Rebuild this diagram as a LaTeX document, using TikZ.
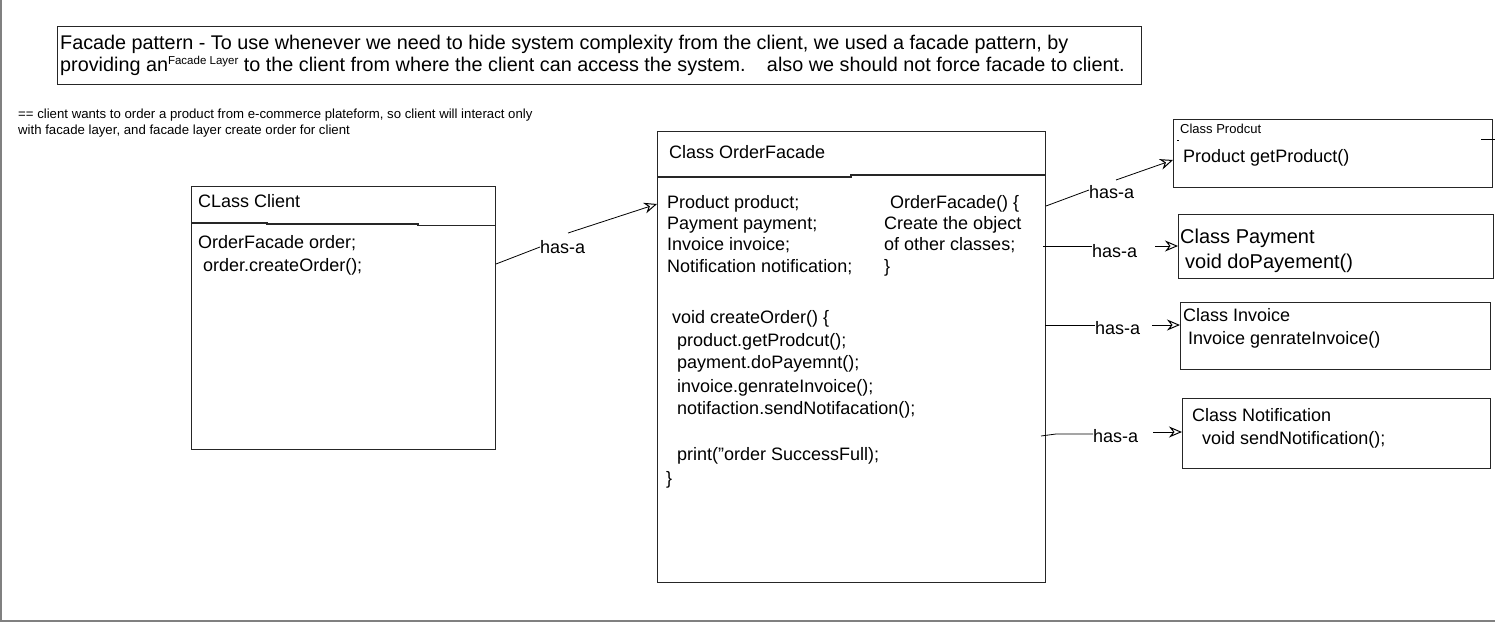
\documentclass[tikz,border=0pt]{standalone}
\usepackage{fontspec}
\setmainfont{Liberation Sans}
\usetikzlibrary{arrows.meta}
\begin{document}
\begin{tikzpicture}[x=1pt,y=-1pt,
  txt/.style={anchor=base west, inner sep=0pt, font=\fontsize{18}{21}\selectfont},
  headtxt/.style={anchor=base west, inner sep=0pt, font=\fontsize{19.8}{22}\selectfont},
  bigtxt/.style={anchor=base west, inner sep=0pt, font=\fontsize{20}{23}\selectfont},
  small/.style={anchor=base west, inner sep=0pt, font=\fontsize{13.2}{15}\selectfont},
  box/.style={draw=black!85, line width=1.3pt, anchor=north west, inner sep=0pt},
  conn/.style={draw=black, line width=0.8pt},
  tipped/.style={conn, -{Stealth[open,length=13pt,width=11pt,line width=1pt]}}]
\useasboundingbox (0,0) rectangle (1495,623);
\fill[white] (0,0) rectangle (1495,623);
\draw[black!50, line width=1.5pt] (1,0) -- (1,621) -- (1495,621);

% header
\node[box, minimum width=1084pt, minimum height=58pt] (header) at (57,26) {};
\node[headtxt] (h1) at (60,50) {Facade pattern - To use whenever we need to hide system complexity from the client, we used a facade pattern, by};
\node[headtxt] (h2) at (60,72) {providing an\raisebox{7pt}{\fontsize{11.5}{11}\selectfont Facade Layer} to the client from where the client can access the system.\hspace{14pt} also we should not force facade to client.};

% note
\node[small] (n1) at (18,119) {== client wants to order a product from e-commerce plateform, so client will interact only};
\node[small] (n2) at (18,135) {with facade layer, and facade layer create order for client};

% client
\node[box, minimum width=304pt, minimum height=263pt] (client) at (191,186) {};
\draw[black!85, line width=1.3pt] (191,223) -- (267,223) -- (267,224) -- (418,224) -- (418,225.5) -- (495,225.5);
\node[txt] (ct) at (198,207.5) {CLass Client};
\node[txt] (cb1) at (198,248.5) {OrderFacade order;};
\node[txt] (cb2) at (198,271.5) {\ order.createOrder();};

% facade
\node[box, minimum width=388pt, minimum height=451pt] (facade) at (657,131) {};
\draw[black!85, line width=1.3pt] (657,177) -- (851,177) -- (851,175) -- (1045,175);
\node[txt] (ft) at (669,158.5) {Class OrderFacade};
\node[txt] (fa1) at (667,208.5) {Product product;};
\node[txt] (fa2) at (667,229.5) {Payment payment;};
\node[txt] (fa3) at (667,250.5) {Invoice invoice;};
\node[txt] (fa4) at (667,272.5) {Notification notification;};
\node[txt] (fc1) at (890,208.5) {OrderFacade() \{};
\node[txt] (fc2) at (884,229.5) {Create the object};
\node[txt] (fc3) at (884,250.5) {of other classes;};
\node[txt] (fc4) at (884,272.5) {\}};
\node[txt] (fm1) at (672,323.5) {void createOrder() \{};
\node[txt] (fm2) at (677,346.5) {product.getProdcut();};
\node[txt] (fm3) at (677,368.5) {payment.doPayemnt();};
\node[txt] (fm4) at (677,392.5) {invoice.genrateInvoice();};
\node[txt] (fm5) at (677,414.5) {notifaction.sendNotifacation();};
\node[txt] (fm6) at (677,460.5) {print("order SuccessFull);};
\node[txt] (fm7) at (666,484.5) {\}};

% product
\node[box, minimum width=319pt, minimum height=68pt] (product) at (1173,119) {};
\node[anchor=base west, inner sep=0pt, font=\fontsize{13}{15}\selectfont] (pt) at (1180,133.5) {Class Prodcut};
\node[txt] (pb) at (1183,162.5) {Product getProduct()};
\draw[conn] (1177,140) -- (1179,140);
\draw[conn] (1481,139) -- (1495,139);

% payment
\node[box, minimum width=315pt, minimum height=64pt] (payment) at (1178,214) {};
\node[bigtxt] (yt) at (1180,243) {Class Payment};
\node[bigtxt] (yb) at (1185,268) {void doPayement()};

% invoice
\node[box, minimum width=310pt, minimum height=67pt] (invoice) at (1180,302) {};
\node[txt] (it) at (1183,321.5) {Class Invoice};
\node[txt] (ib) at (1188,344.5) {Invoice genrateInvoice()};

% notification
\node[box, minimum width=308pt, minimum height=70pt] (notif) at (1182,398) {};
\node[txt] (ot) at (1192,421.5) {Class Notification};
\node[txt] (ob) at (1202,444.5) {void sendNotification();};

% has-a labels
\node[txt] (l1) at (540,253.5) {has-a};
\node[txt] (l2) at (1089,198.5) {has-a};
\node[txt] (l3) at (1092,257.5) {has-a};
\node[txt] (l4) at (1095,334.5) {has-a};
\node[txt] (l5) at (1093,442.5) {has-a};

% connector end points
\coordinate (a1) at (496,264);  \coordinate (a2) at (540,247);
\coordinate (a3) at (568,233);  \coordinate (a4) at (657,204);
\coordinate (b1) at (1046,206); \coordinate (b2) at (1089,190);
\coordinate (b3) at (1116,180); \coordinate (b4) at (1173,160);
\coordinate (c1) at (1043,246); \coordinate (c2) at (1092,246);
\coordinate (c3) at (1155,246); \coordinate (c4) at (1178,246);
\coordinate (d1) at (1045,325); \coordinate (d2) at (1095,325);
\coordinate (d3) at (1152,325); \coordinate (d4) at (1180,325);
\coordinate (e0) at (1041,436); \coordinate (e1) at (1056,434);
\coordinate (e2) at (1093,434); \coordinate (e3) at (1153,432);
\coordinate (e4) at (1182,432);

\draw[conn] (a1) -- (a2);
\draw[tipped] (a3) -- (a4);
\draw[conn] (b1) -- (b2);
\draw[tipped] (b3) -- (b4);
\draw[conn] (c1) -- (c2);
\draw[tipped] (c3) -- (c4);
\draw[conn] (d1) -- (d2);
\draw[tipped] (d3) -- (d4);
\draw[conn] (e0) -- (e1) -- (e2);
\draw[tipped] (e3) -- (e4);
\end{tikzpicture}
\end{document}
